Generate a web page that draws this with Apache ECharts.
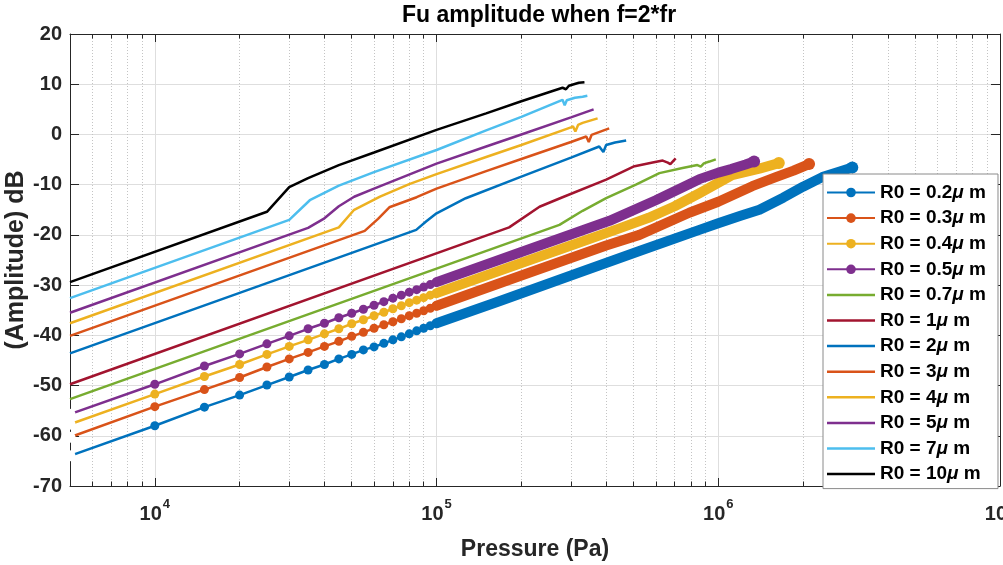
<!DOCTYPE html>
<html>
<head>
<meta charset="utf-8">
<script src="https://cdn.jsdelivr.net/npm/echarts@6/dist/echarts.min.js"></script>
<style>
html,body{margin:0;padding:0;background:#fff;}
#chart{width:1003px;height:565px;}
</style>
</head>
<body>
<div id="chart"></div>
<script>
// ---------------- data ----------------
const seriesNames = ['R0 = 0.2μ m','R0 = 0.3μ m','R0 = 0.4μ m','R0 = 0.5μ m','R0 = 0.7μ m','R0 = 1μ m',
                     'R0 = 2μ m','R0 = 3μ m','R0 = 4μ m','R0 = 5μ m','R0 = 7μ m','R0 = 10μ m'];
const seriesColors = ['#0072BD','#D95319','#EDB120','#7E2F8E','#77AC30','#A2142F',
                      '#0072BD','#D95319','#EDB120','#7E2F8E','#4DBEEE','#000000'];

// marker series (R0 = 0.2 .. 0.5 um): one marker every 5 kPa up to 100 kPa
const markerPressure = [5000,10000,15000,20000,25000,30000,35000,40000,45000,50000,
                        55000,60000,65000,70000,75000,80000,85000,90000,95000,100000];
const ampR02 = [-64.0,-58.0,-54.3,-51.9,-49.9,-48.3,-46.9,-45.8,-44.7,-43.8,-42.9,-42.3,-41.6,-40.9,-40.3,-39.7,-39.1,-38.6,-38.1,-37.6];
const ampR03 = [-60.3,-54.2,-50.8,-48.4,-46.3,-44.7,-43.4,-42.2,-41.2,-40.2,-39.4,-38.6,-37.9,-37.3,-36.7,-36.1,-35.6,-35.1,-34.6,-34.1];
const ampR04 = [-57.7,-51.7,-48.2,-45.8,-43.8,-42.2,-40.9,-39.7,-38.7,-37.7,-36.9,-36.1,-35.4,-34.7,-34.1,-33.5,-33.0,-32.5,-32.0,-31.6];
const ampR05 = [-55.7,-49.75,-46.1,-43.7,-41.7,-40.1,-38.7,-37.6,-36.5,-35.6,-34.8,-34.0,-33.3,-32.6,-32.0,-31.4,-30.9,-30.4,-29.9,-29.4];

// dense-marker part (> 100 kPa), where markers merge into a band
const bandPR02 = [100000,167000,300000,525000,857000,1000000,1200000,1400000,1700000,2000000,2340000,2700000,2990000];
const bandAR02 = [-37.6,-33.2,-28.1,-23.2,-19.0,-17.7,-16.2,-15.0,-12.6,-10.4,-8.5,-7.4,-6.6];
const bandPR03 = [100000,200000,400000,525000,789000,1000000,1320000,1600000,1850000,2100000];
const bandAR03 = [-34.1,-28.1,-22.1,-20.0,-15.6,-13.4,-10.3,-8.5,-7.2,-5.9];
const bandPR04 = [100000,200000,300000,446000,566000,700000,857000,1120000,1400000,1640000];
const bandAR04 = [-31.6,-25.6,-22.1,-18.7,-16.6,-14.3,-11.7,-8.1,-6.8,-5.7];
const bandPR05 = [100000,200000,411000,600000,857000,1000000,1110000,1250000,1340000];
const bandAR05 = [-29.4,-23.4,-17.2,-13.1,-8.9,-7.6,-6.9,-6.0,-5.4];

// plain line series
const pR07 = [5000,273000,330000,400000,510000,618000,747000,843000,867000,889000,930000,980000];
const aR07 = [-52.7,-18.0,-15.2,-12.7,-10.0,-7.7,-6.7,-6.1,-6.4,-5.75,-5.4,-4.95];
const pR1 = [5000,181000,232000,280000,400000,500000,585000,635000,662000,676000,706000];
const aR1 = [-49.75,-18.5,-14.4,-12.5,-9.0,-6.4,-5.6,-5.2,-5.6,-5.9,-4.75];
const pR2 = [5000,84700,92000,100000,127000,200000,300000,378000,391000,400000,430000,471000];
const aR2 = [-43.6,-19.0,-17.3,-15.7,-12.7,-8.4,-4.6,-2.4,-3.5,-2.1,-1.6,-1.2];
const pR3 = [5000,55600,62000,68000,85000,100000,150000,200000,300000,340000,347000,355000,410000];
const aR3 = [-40.1,-19.2,-16.8,-14.5,-12.5,-10.8,-7.3,-4.9,-1.5,-0.4,-1.5,-0.1,1.2];
const pR4 = [5000,45000,51000,63000,80000,100000,150000,200000,300000,305000,311000,318000,330000,373000];
const aR4 = [-37.6,-18.5,-15.0,-12.4,-9.9,-7.9,-4.5,-2.1,1.4,1.6,0.6,1.9,2.3,3.2];
const pR5 = [5000,35000,40000,45000,51000,60000,100000,150000,200000,300000,361000];
const aR5 = [-35.5,-18.6,-16.7,-14.3,-12.4,-10.8,-5.8,-2.4,0.0,3.4,5.0];
const pR7 = [5000,30000,35500,45000,60000,100000,150000,200000,280000,285000,290000,310000,330000,343000];
const aR7 = [-32.6,-17.0,-13.1,-10.2,-7.5,-3.1,0.8,3.5,6.9,5.8,6.8,7.3,7.5,7.7];
const pR10 = [5000,25000,30000,35000,45000,60000,100000,150000,200000,280000,288000,295000,320000,335000];
const aR10 = [-29.4,-15.4,-10.5,-8.7,-6.1,-3.6,0.9,4.2,6.6,9.3,9.0,9.7,10.3,10.4];

// axes
const xMin = 5000, xMax = 1e7;
const yMin = -70, yMax = 20, yStep = 10;
const minorGridPressure = [6000,7000,8000,9000,
  20000,30000,40000,50000,60000,70000,80000,90000,
  200000,300000,400000,500000,600000,700000,800000,900000,
  2000000,3000000,4000000,5000000,6000000,7000000,8000000,9000000];

const titleText = 'Fu amplitude when f=2*fr';
const xName = 'Pressure (Pa)';
const yName = '(Amplitude) dB';

// ---------------- chart ----------------
const FONT = '"Liberation Sans", Arial, Helvetica, sans-serif';
const AX = '#262626';
const LINE_ICON = 'path://M0,0 L48,0 L48,2.5 L0,2.5 Z';
function zip(p, v) { return p.map((x, i) => [x, v[i]]); }

const markerSets = [ampR02, ampR03, ampR04, ampR05];
const bandP = [bandPR02, bandPR03, bandPR04, bandPR05];
const bandA = [bandAR02, bandAR03, bandAR04, bandAR05];
const lineP = [pR07, pR1, pR2, pR3, pR4, pR5, pR7, pR10];
const lineA = [aR07, aR1, aR2, aR3, aR4, aR5, aR7, aR10];

const series = [];
// background minor grid (dotted)
series.push({
  type: 'line', name: '_grid', data: [], silent: true, z: 1,
  markLine: {
    silent: true, z: 1, symbol: ['none', 'none'], label: { show: false }, animation: false,
    lineStyle: { type: [1, 2], color: '#c4c4c4', width: 1 },
    emphasis: { disabled: true },
    data: minorGridPressure.map(p => ({ xAxis: p }))
  }
});
for (let i = 0; i < 4; i++) {
  const c = seriesColors[i];
  const d = zip(markerPressure, markerSets[i]);
  d[0] = { value: d[0], symbol: 'emptyCircle', itemStyle: { color: '#fff', borderColor: c, borderWidth: 2 } };
  series.push({
    type: 'line', name: seriesNames[i], data: d, color: c,
    symbol: 'circle', symbolSize: 9, showSymbol: true, showAllSymbol: true,
    lineStyle: { width: 2.5 }, itemStyle: { color: c }, z: 2
  });
  const bd = zip(bandP[i], bandA[i]);
  const last = bd.length - 1;
  series.push({
    type: 'line', name: seriesNames[i], data: bd, color: c,
    symbol: 'circle', symbolSize: (v, p) => (p.dataIndex === last ? 12 : 0), showSymbol: true,
    lineStyle: { width: 10, cap: 'round', join: 'round' }, itemStyle: { color: c }, z: 2
  });
}
for (let j = 0; j < 8; j++) {
  const i = j + 4;
  series.push({
    type: 'line', name: seriesNames[i], data: zip(lineP[j], lineA[j]), color: seriesColors[i],
    symbol: 'none', showSymbol: false,
    lineStyle: { width: 2.5, color: seriesColors[i] }, itemStyle: { color: seriesColors[i] }, z: 2
  });
}
// minor axis ticks (bottom and top box edges)
series.push({
  type: 'line', name: '_ticks', data: [], silent: true, z: 3,
  markLine: {
    silent: true, z: 3, symbol: ['none', 'none'], label: { show: false }, animation: false,
    lineStyle: { type: 'solid', color: AX, width: 1 },
    emphasis: { disabled: true },
    data: minorGridPressure.flatMap(p => [
      [{ coord: [p, yMin] }, { coord: [p, yMin + 0.9] }],
      [{ coord: [p, yMax] }, { coord: [p, yMax - 0.9] }]
    ])
  }
});

const legendData = seriesNames.map((n, i) => i < 4
  ? { name: n }
  : { name: n, icon: LINE_ICON, itemStyle: { color: seriesColors[i], borderWidth: 0 } });

function xLabel(v) {
  const l = Math.log10(v);
  const e = Math.round(l);
  if (Math.abs(l - e) > 1e-6) return '';
  return '{b|10}{s|' + e + '}';
}

const chart = echarts.init(document.getElementById('chart'), null, { renderer: 'canvas' });
chart.setOption({
  animation: false,
  backgroundColor: '#ffffff',
  title: {
    text: titleText, left: 397, top: 1, padding: [3, 5],
    textStyle: { fontFamily: FONT, fontSize: 23, fontWeight: 'bold', color: '#000' }
  },
  grid: { left: 70, right: 3, top: 34, bottom: 79, containLabel: false, outerBoundsMode: 'none' },
  legend: {
    data: legendData, orient: 'vertical', left: 823, top: 174, z: 30,
    itemWidth: 48, itemHeight: 12, itemGap: 6.6, symbolKeepAspect: true,
    padding: [9, 12, 5, 3],
    backgroundColor: '#ffffff', borderColor: '#8a8a8a', borderWidth: 1, borderRadius: 0,
    selectedMode: false,
    formatter: n => n.replace('μ', '{i|μ}'),
    textStyle: {
      fontFamily: FONT, fontSize: 19, fontWeight: 'bold', color: '#000',
      rich: { i: { fontFamily: FONT, fontSize: 19, fontWeight: 'bold', fontStyle: 'italic', color: '#000' } }
    }
  },
  xAxis: [{
    type: 'log', logBase: 10, min: xMin, max: xMax, position: 'bottom',
    name: xName, nameLocation: 'middle', nameGap: 52,
    nameTextStyle: { fontFamily: FONT, fontSize: 23, fontWeight: 'bold', color: AX },
    axisLine: { show: true, onZero: false, lineStyle: { color: AX, width: 1 } },
    axisTick: { show: true, inside: true, length: 8, lineStyle: { color: AX } },
    axisLabel: {
      show: true, margin: 12, formatter: xLabel, showMinLabel: false,
      rich: {
        b: { fontFamily: FONT, fontSize: 20, fontWeight: 'bold', color: AX, lineHeight: 26, verticalAlign: 'bottom' },
        s: { fontFamily: FONT, fontSize: 13, fontWeight: 'bold', color: AX, lineHeight: 26, verticalAlign: 'top', padding: [0, 0, 0, 1] }
      }
    },
    splitLine: { show: true, lineStyle: { color: '#dedede', width: 1 } },
    minorTick: { show: false }, minorSplitLine: { show: false }
  }, {
    type: 'log', logBase: 10, min: xMin, max: xMax, position: 'top',
    axisLine: { show: true, onZero: false, lineStyle: { color: AX, width: 1 } },
    axisTick: { show: true, inside: true, length: 8, lineStyle: { color: AX } },
    axisLabel: { show: false }, splitLine: { show: false }
  }],
  yAxis: [{
    type: 'value', min: yMin, max: yMax, interval: yStep, position: 'left',
    name: yName, nameLocation: 'middle', nameGap: 41, nameRotate: 90, nameMoveOverlap: false,
    nameTextStyle: { fontFamily: FONT, fontSize: 25, fontWeight: 'bold', color: AX },
    axisLine: { show: true, onZero: false, lineStyle: { color: AX, width: 1 } },
    axisTick: { show: true, inside: true, length: 9, lineStyle: { color: AX } },
    axisLabel: { fontFamily: FONT, fontSize: 20, fontWeight: 'bold', color: AX, margin: 8 },
    splitLine: { show: true, lineStyle: { color: '#dedede', width: 1 } }
  }, {
    type: 'value', min: yMin, max: yMax, interval: yStep, position: 'right',
    axisLine: { show: true, onZero: false, lineStyle: { color: AX, width: 1 } },
    axisTick: { show: true, inside: true, length: 9, lineStyle: { color: AX } },
    axisLabel: { show: false }, splitLine: { show: false }
  }],
  series: series
});
</script>
</body>
</html>
